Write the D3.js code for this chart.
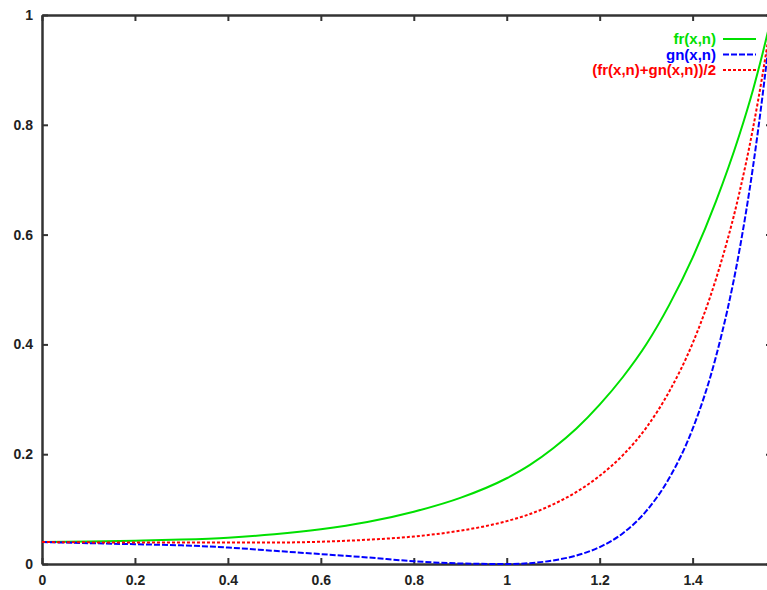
<!DOCTYPE html>
<html>
<head>
<meta charset="utf-8">
<script src="https://cdn.jsdelivr.net/npm/d3@7"></script>
<style>
body { margin: 0; background: #fff; }
svg { display: block; }
.axis text { font-family: "Liberation Sans", Arial, sans-serif; font-size: 14px; font-weight: bold; fill: #222; }
.axis path, .axis line { stroke: #333; }
.legend text { font-family: "Liberation Sans", Arial, sans-serif; font-size: 15px; font-weight: bold; }
</style>
</head>
<body>
<div id="chart"></div>
<script>
// values
var xs = [0, 0.1, 0.2, 0.3, 0.4, 0.5, 0.6, 0.7, 0.8, 0.9, 1.0, 1.05, 1.1, 1.15, 1.2, 1.25, 1.3, 1.35, 1.4, 1.45, 1.5, 1.53, 1.55, 1.5708];
var frValues = [0.040, 0.0408, 0.0423, 0.0445, 0.048, 0.0541, 0.0632, 0.0764, 0.0952, 0.1204, 0.1562, 0.1805, 0.2108, 0.2468, 0.2903, 0.3406, 0.3997, 0.4724, 0.558, 0.660, 0.780, 0.864, 0.928, 1.0];
var gnValues = [0.040, 0.038, 0.036, 0.034, 0.030, 0.024, 0.018, 0.012, 0.005, 0.001, 0.000, 0.0015, 0.0065, 0.0155, 0.0308, 0.0561, 0.0962, 0.157, 0.246, 0.377, 0.568, 0.724, 0.850, 1.0];
var avgValues = [0.040, 0.0394, 0.0392, 0.0393, 0.039, 0.0391, 0.0406, 0.0442, 0.0501, 0.0607, 0.0781, 0.091, 0.1087, 0.1312, 0.1606, 0.1984, 0.248, 0.3147, 0.402, 0.5185, 0.674, 0.794, 0.889, 1.0];

var seriesNames = ["fr(x,n)", "gn(x,n)", "(fr(x,n)+gn(x,n))/2"];
var seriesColors = ["#00e000", "#0000ff", "#ff0000"];
var seriesDash = [null, "6,2", "3,2"];
var xTicks = [0, 0.2, 0.4, 0.6, 0.8, 1, 1.2, 1.4];
var yTicks = [0, 0.2, 0.4, 0.6, 0.8, 1];

var width = 767, height = 590;
var margin = {top: 15, right: -5, bottom: 26, left: 42};

var svg = d3.select("#chart")
  .append("svg")
  .attr("width", width)
  .attr("height", height);

var x = d3.scaleLinear().domain([0, Math.PI / 2]).range([margin.left, width - margin.right]);
var y = d3.scaleLinear().domain([0, 1]).range([height - margin.bottom, margin.top]);

var fmt = d3.format("~g");

// bottom axis, ticks inward
var gx = svg.append("g")
  .attr("class", "axis")
  .attr("transform", "translate(0," + y(0) + ")")
  .call(d3.axisBottom(x).tickValues(xTicks).tickFormat(fmt).tickSizeInner(-6).tickSizeOuter(0).tickPadding(11));
gx.select(".domain").attr("stroke-width", 2.5);
gx.selectAll(".tick line").attr("stroke-width", 2);

// top axis
var gt = svg.append("g")
  .attr("class", "axis")
  .attr("transform", "translate(0," + y(1) + ")")
  .call(d3.axisTop(x).tickValues(xTicks).tickFormat("").tickSizeInner(-6).tickSizeOuter(0));
gt.select(".domain").attr("stroke-width", 2.5);
gt.selectAll(".tick line").attr("stroke-width", 2);

// left axis
var gy = svg.append("g")
  .attr("class", "axis")
  .attr("transform", "translate(" + x(0) + ",0)")
  .call(d3.axisLeft(y).tickValues(yTicks).tickFormat(fmt).tickSizeInner(-6).tickSizeOuter(0).tickPadding(9));
gy.select(".domain").attr("stroke-width", 2.5);
gy.selectAll(".tick line").attr("stroke-width", 2);

// right axis (frame edge sits just past the window)
var gr = svg.append("g")
  .attr("class", "axis")
  .attr("transform", "translate(" + x(Math.PI / 2) + ",0)")
  .call(d3.axisRight(y).tickValues(yTicks).tickFormat("").tickSizeInner(-6).tickSizeOuter(0));
gr.select(".domain").attr("stroke-width", 2.5);
gr.selectAll(".tick line").attr("stroke-width", 2);

var line = d3.line()
  .x(function(d) { return x(d[0]); })
  .y(function(d) { return y(d[1]); })
  .curve(d3.curveMonotoneX);

var allValues = [frValues, gnValues, avgValues];

var plot = svg.append("g").attr("class", "lines");
allValues.forEach(function(vals, i) {
  var pts = xs.map(function(v, j) { return [v, vals[j]]; });
  plot.append("path")
    .datum(pts)
    .attr("fill", "none")
    .attr("stroke", seriesColors[i])
    .attr("stroke-width", 2)
    .attr("stroke-dasharray", seriesDash[i])
    .attr("d", line);
});

// legend
var legend = svg.append("g").attr("class", "legend");
var legendY = [39, 54.5, 70];
seriesNames.forEach(function(name, i) {
  legend.append("text")
    .attr("x", 716)
    .attr("y", legendY[i])
    .attr("dy", "0.35em")
    .attr("text-anchor", "end")
    .attr("fill", seriesColors[i])
    .text(name);
  legend.append("line")
    .attr("x1", 723)
    .attr("x2", 756)
    .attr("y1", legendY[i])
    .attr("y2", legendY[i])
    .attr("stroke", seriesColors[i])
    .attr("stroke-width", 2)
    .attr("stroke-dasharray", seriesDash[i]);
});
</script>
</body>
</html>
